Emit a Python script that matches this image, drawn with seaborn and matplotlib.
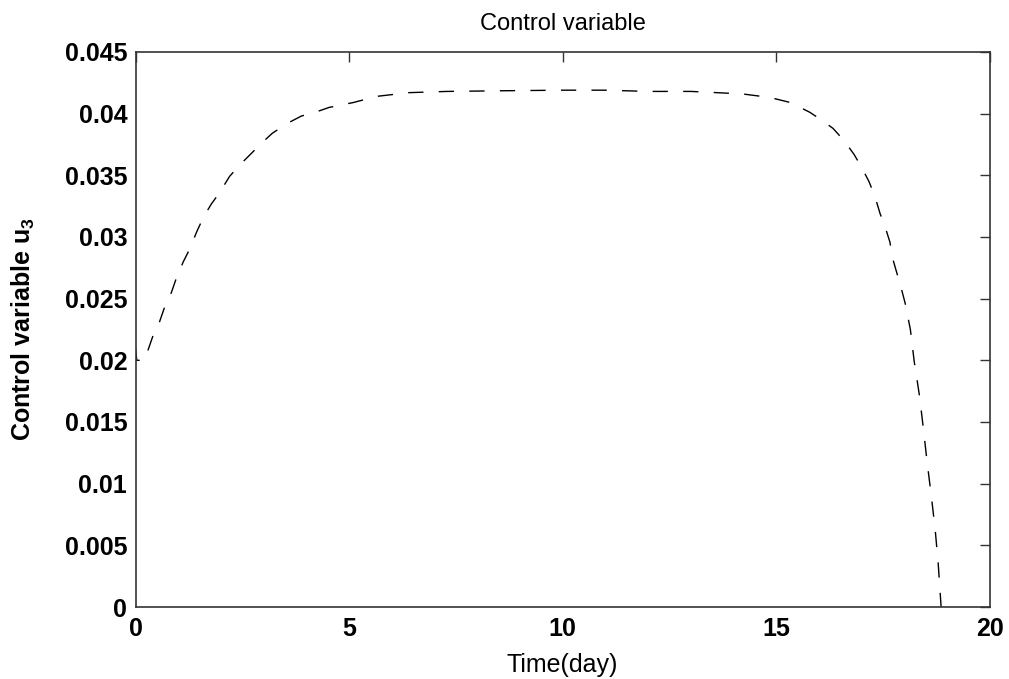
import numpy as np
import pandas as pd
import matplotlib
matplotlib.use("Agg")
import matplotlib.pyplot as plt
import seaborn as sns

# values
time_day = [0.0, 0.03, 0.21, 0.40, 0.56, 0.68, 0.84, 0.96, 1.12, 1.28, 1.43, 1.59,
            1.78, 1.97, 2.20, 2.43, 2.69, 2.95, 3.20, 3.55, 3.88, 4.20, 4.53, 5.10,
            5.65, 6.40, 7.30, 8.50, 10.0, 11.0, 12.0, 13.0, 13.6, 14.2, 14.65, 14.98,
            15.33, 15.79, 16.05, 16.33, 16.59, 16.82, 16.99, 17.17, 17.31, 17.43,
            17.55, 17.66, 17.73, 17.83, 17.93, 18.02, 18.14, 18.23, 18.35, 18.44,
            18.53, 18.63, 18.72, 18.79, 18.84, 18.86]
u3 = [0.0210, 0.0200, 0.0200, 0.0219, 0.0231, 0.0243, 0.0255, 0.0267, 0.0280, 0.0291,
      0.0304, 0.0316, 0.0327, 0.0336, 0.0349, 0.0358, 0.0367, 0.0376, 0.0384, 0.0392,
      0.0398, 0.0401, 0.0405, 0.0409, 0.0414, 0.0417, 0.0418, 0.04185, 0.0419, 0.0419,
      0.0418, 0.0418, 0.0417, 0.0416, 0.0414, 0.0412, 0.0409, 0.0401, 0.0395, 0.0388,
      0.0378, 0.0367, 0.0357, 0.0345, 0.0333, 0.0319, 0.0308, 0.0296, 0.0282, 0.0270,
      0.0258, 0.0246, 0.0225, 0.0199, 0.0172, 0.0146, 0.0118, 0.0090, 0.0063, 0.0036,
      0.0010, 0.0]

x_ticks = [0, 5, 10, 15, 20]
y_ticks = [0, 0.005, 0.01, 0.015, 0.02, 0.025, 0.03, 0.035, 0.04, 0.045]
y_labels = ["0", "0.005", "0.01", "0.015", "0.02", "0.025", "0.03", "0.035", "0.04", "0.045"]

df = pd.DataFrame({"t": time_day, "u": u3})

sns.set_style("white")
plt.rcParams["font.family"] = ["Liberation Sans", "DejaVu Sans"]
plt.rcParams["mathtext.fontset"] = "custom"
plt.rcParams["mathtext.rm"] = "Liberation Sans"
plt.rcParams["mathtext.bf"] = "Liberation Sans:bold"
plt.rcParams["text.color"] = "black"
plt.rcParams["axes.labelcolor"] = "black"
plt.rcParams["xtick.color"] = "black"
plt.rcParams["ytick.color"] = "black"

fig = plt.figure(figsize=(10.09, 6.79), dpi=100)
ax = fig.add_axes([0.1343, 0.106, 0.8467, 0.8175])

sns.lineplot(data=df, x="t", y="u", ax=ax, color="black", linewidth=1.0,
             dashes=False, sort=False)
ax.lines[0].set_dashes((11, 11))

ax.set_xlim(0, 20)
ax.set_ylim(0, 0.045)
ax.set_xticks(x_ticks)
ax.set_xticklabels([str(v) for v in x_ticks], fontsize=18, fontweight="bold")
ax.set_yticks(y_ticks)
ax.set_yticklabels(y_labels, fontsize=18, fontweight="bold")
ax.tick_params(direction="in", length=7, width=1, color="#333333",
               top=True, right=True, pad=7)
ax.tick_params(axis="y", pad=6)

for s in ax.spines.values():
    s.set_color("#333333")
    s.set_linewidth(1.2)
    s.set_visible(True)

ax.set_xlabel("Time(day)", fontsize=18, labelpad=9)
ax.set_ylabel(r"Control variable u$_\mathbf{3}$", fontsize=18, fontweight="bold", labelpad=20)
ax.set_title("Control variable", fontsize=17, pad=16)

fig.savefig("out.png", dpi=100)
